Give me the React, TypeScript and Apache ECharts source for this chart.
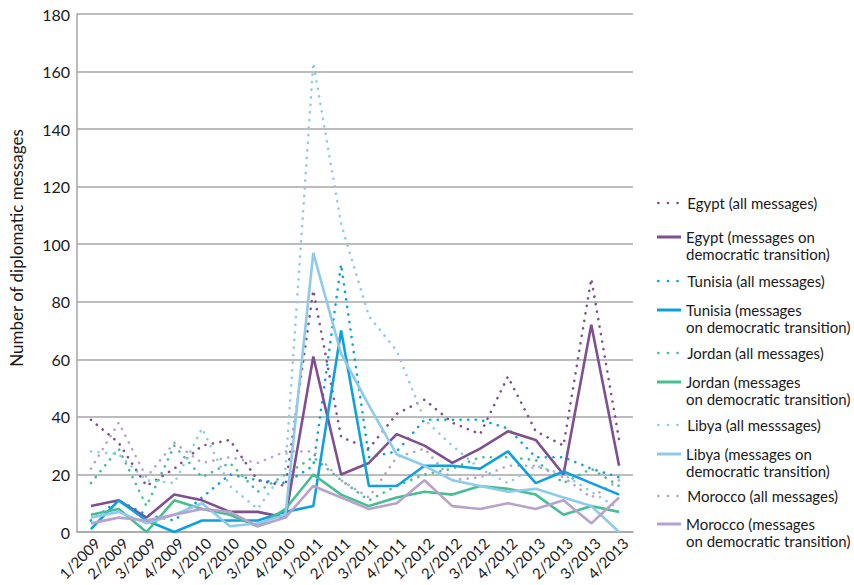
import React, { useEffect, useRef } from 'react';
import * as echarts from 'echarts';

const categories = [
  '1/2009', '2/2009', '3/2009', '4/2009',
  '1/2010', '2/2010', '3/2010', '4/2010',
  '1/2011', '2/2011', '3/2011', '4/2011',
  '1/2012', '2/2012', '3/2012', '4/2012',
  '1/2013', '2/2013', '3/2013', '4/2013',
];

const yTicks = { min: 0, max: 180, interval: 20 };

const egyptAll = [39, 31, 16, 22, 30, 32, 18, 16, 84, 33, 29, 41, 46, 38, 34, 54, 35, 30, 88, 32];
const egyptDem = [9, 11, 5, 13, 11, 7, 7, 5, 61, 20, 24, 34, 30, 24, 29, 35, 32, 20, 72, 23];
const tunisiaAll = [4, 11, 6, 4, 12, 20, 18, 17, 23, 93, 26, 28, 39, 39, 39, 36, 26, 26, 22, 19];
const tunisiaDem = [1, 11, 4, 0, 4, 4, 4, 7, 9, 70, 16, 16, 23, 23, 22, 28, 17, 21, 17, 13];
const jordanAll = [17, 29, 9, 30, 19, 24, 14, 20, 26, 18, 11, 16, 20, 22, 26, 26, 25, 17, 22, 16];
const jordanDem = [6, 8, 0, 11, 8, 6, 2, 8, 20, 13, 9, 12, 14, 13, 16, 15, 13, 6, 9, 7];
const libyaAll = [28, 27, 18, 17, 36, 16, 8, 22, 163, 107, 75, 63, 39, 30, 22, 17, 23, 20, 14, 8];
const libyaDem = [5, 7, 3, 6, 10, 2, 3, 6, 97, 62, 44, 27, 23, 18, 16, 14, 15, 12, 9, 0];
const moroccoAll = [22, 38, 19, 31, 24, 26, 24, 28, 28, 18, 12, 26, 29, 18, 19, 23, 23, 19, 12, 18];
const moroccoDem = [3, 5, 4, 6, 8, 7, 2, 5, 16, 12, 8, 10, 18, 9, 8, 10, 8, 11, 3, 12];

const seriesNames = [
  'Egypt (all messages)',
  'Egypt (messages on\ndemocratic transition)',
  'Tunisia (all messages)',
  'Tunisia (messages\non democratic transition)',
  'Jordan (all messages)',
  'Jordan (messages\non democratic transition)',
  'Libya (all messsages)',
  'Libya (messages on\ndemocratic transition)',
  'Morocco (all messages)',
  'Morocco (messages\non democratic transition)',
];

const seriesValues = [egyptAll, egyptDem, tunisiaAll, tunisiaDem, jordanAll, jordanDem, libyaAll, libyaDem, moroccoAll, moroccoDem];

const colors = {
  egypt: '#7f4f8f',
  tunisia: '#0ea1e0',
  jordan: '#45bf92',
  libya: '#8dcbeb',
  morocco: '#b8a1cb',
};
const seriesColors = [
  colors.egypt, colors.egypt,
  colors.tunisia, colors.tunisia,
  colors.jordan, colors.jordan,
  colors.libya, colors.libya,
  colors.morocco, colors.morocco,
];

// first-line centre of each legend entry (px)
const legendCenters = [203, 237, 281, 310, 353, 382, 425, 454, 496, 524];

const FONT = 'Lato, "Open Sans", sans-serif';
const GRID = '#a6a6a6';
// solid legend mark drawn on the first text line of a two-line entry
const TOP_LINE_ICON =
  'path://M0,0h0.01v0.01h-0.01Z M0,7h24v3h-24Z M0,33.99h0.01v0.01h-0.01Z';

export default function App() {
  const ref = useRef<HTMLDivElement>(null);

  useEffect(() => {
    if (!ref.current) return;
    const chart = echarts.init(ref.current, null, { renderer: 'svg' });

    const series = seriesNames.map((name, i) => {
      const dotted = i % 2 === 0;
      return {
        name,
        type: 'line',
        data: seriesValues[i],
        showSymbol: false,
        symbol: 'none',
        color: seriesColors[i],
        lineStyle: dotted
          ? { width: 2.6, type: [0.1, 7.5], cap: 'round', color: seriesColors[i] }
          : { width: 2.6, type: 'solid', color: seriesColors[i] },
        z: dotted ? 2 : 3,
      };
    });

    const textStyle = {
      fontFamily: FONT,
      fontSize: 15,
      lineHeight: 17,
      color: '#1a1a1a',
    };

    const legends = seriesNames.map((name, i) => {
      const dotted = i % 2 === 0;
      if (dotted) {
        return {
          data: [name],
          orient: 'vertical',
          left: 657,
          top: legendCenters[i] - 8.5,
          padding: 0,
          itemWidth: 24,
          itemHeight: 14,
          selectedMode: false,
          itemStyle: { opacity: 0 },
          lineStyle: { width: 2.6, type: [0.1, 9.5], cap: 'round' },
          textStyle,
        };
      }
      return {
        data: [name],
        orient: 'vertical',
        left: 657,
        top: legendCenters[i] - 8.5,
        padding: 0,
        icon: TOP_LINE_ICON,
        itemWidth: 24,
        itemHeight: 34,
        selectedMode: false,
        itemStyle: { opacity: 1, color: seriesColors[i] },
        textStyle,
      };
    });

    chart.setOption({
      animation: false,
      backgroundColor: '#ffffff',
      grid: { left: 71, right: 221, top: 14, bottom: 53, containLabel: false },
      legend: legends,
      xAxis: {
        type: 'category',
        data: categories,
        boundaryGap: true,
        axisTick: { show: false },
        axisLine: { show: true, lineStyle: { color: GRID, width: 1.5 } },
        axisLabel: {
          interval: 0,
          rotate: 45,
          margin: 2,
          verticalAlign: 'top',
          lineHeight: 18,
          fontFamily: FONT,
          fontSize: 15,
          color: '#1a1a1a',
        },
      },
      yAxis: {
        type: 'value',
        min: yTicks.min,
        max: yTicks.max,
        interval: yTicks.interval,
        name: 'Number of diplomatic messages',
        nameLocation: 'middle',
        nameGap: 52,
        nameTextStyle: {
          fontFamily: FONT,
          fontSize: 17,
          color: '#1a1a1a',
          padding: [0, 0, 0, 50],
        },
        axisLine: { show: true, lineStyle: { color: GRID, width: 1.5 } },
        axisTick: { show: false },
        axisLabel: { fontFamily: FONT, fontSize: 16, color: '#1a1a1a', margin: 7 },
        splitLine: { show: true, lineStyle: { color: GRID, width: 1.5 } },
      },
      series,
    });

    return () => chart.dispose();
  }, []);

  return (
    <div
      ref={ref}
      style={{ position: 'absolute', left: 0, top: 0, width: 854, height: 585 }}
    />
  );
}
